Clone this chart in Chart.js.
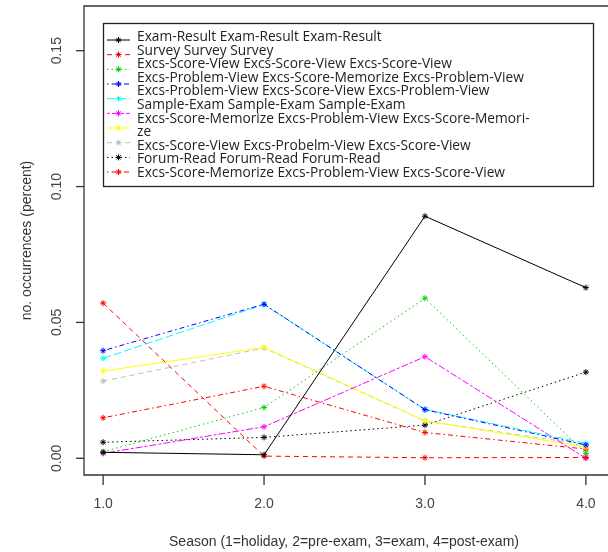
<!DOCTYPE html>
<html>
<head>
<meta charset="utf-8">
<script src="https://cdn.jsdelivr.net/npm/chart.js@4.4.1/dist/chart.umd.min.js"></script>
<style>
html, body { margin: 0; padding: 0; background: #fff; overflow: hidden; }
#wrap { width: 608px; height: 552px; }
</style>
</head>
<body>
<div id="wrap"><canvas id="chart" width="608" height="552"></canvas></div>
<script>
// seasons on the x axis
const seasons = [1, 2, 3, 4];
const xTicks = [1, 2, 3, 4];
const yTicks = [0, 0.05, 0.10, 0.15];

// share of occurrences per season, one array per pattern
const examResult      = [0.0022, 0.0013, 0.0891, 0.0628];
const survey          = [0.0571, 0.0008, 0.0002, 0.0003];
const scoreView       = [0.0024, 0.0187, 0.0589, 0.0018];
const problemMemorize = [0.0396, 0.0567, 0.0179, 0.0049];
const problemScore    = [0.0368, 0.0566, 0.0180, 0.0055];
const sampleExam      = [0.0018, 0.0116, 0.0374, 0.0000];
const memorizeProblem = [0.0321, 0.0408, 0.0138, 0.0042];
const scoreProbelm    = [0.0284, 0.0406, 0.0137, 0.0050];
const forumRead       = [0.0059, 0.0077, 0.0122, 0.0317];
const memorizeScore   = [0.0149, 0.0265, 0.0095, 0.0034];

const names = [
    'Exam-Result Exam-Result Exam-Result',
    'Survey Survey Survey',
    'Excs-Score-View Excs-Score-View Excs-Score-View',
    'Excs-Problem-View Excs-Score-Memorize Excs-Problem-View',
    'Excs-Problem-View Excs-Score-View Excs-Problem-View',
    'Sample-Exam Sample-Exam Sample-Exam',
    'Excs-Score-Memorize Excs-Problem-View Excs-Score-Memorize',
    'Excs-Score-View Excs-Probelm-View Excs-Score-View',
    'Forum-Read Forum-Read Forum-Read',
    'Excs-Score-Memorize Excs-Problem-View Excs-Score-View'
];
// legend text as printed (one entry wraps)
const legendText = names.map(n => n);
legendText[6] = 'Excs-Score-Memorize Excs-Problem-View Excs-Score-Memori-\nze';

const series = [examResult, survey, scoreView, problemMemorize, problemScore,
                sampleExam, memorizeProblem, scoreProbelm, forumRead, memorizeScore];

// R palette + lty 1..6 cycling
const colors = ['#000000', '#FF0000', '#00CD00', '#0000FF', '#00FFFF',
                '#FF00FF', '#FFFF00', '#BEBEBE', '#000000', '#FF0000'];
const dashes = [[], [5, 4], [1.5, 3], [1.5, 3, 5, 3], [8, 3],
                [3, 2, 7, 2], [], [5, 4], [1.5, 3], [1.5, 3, 5, 3]];

const datasets = series.map((vals, i) => ({
    label: names[i],
    data: seasons.map((s, j) => ({ x: s, y: vals[j] })),
    borderColor: colors[i],
    backgroundColor: colors[i],
    borderWidth: 1,
    borderDash: dashes[i],
    showLine: true,
    fill: false,
    tension: 0,
    pointStyle: 'star',
    pointRadius: 3,
    pointBorderWidth: 1,
    pointBorderColor: colors[i],
    clip: false
}));

const tickFont = '14px "Liberation Sans", Arial, sans-serif';

const rStyle = {
    id: 'rStyle',
    afterDraw(chart) {
        const ctx = chart.ctx;
        const a = chart.chartArea;
        const xs = chart.scales.x;
        const ys = chart.scales.y;
        ctx.save();

        // plot box (right side falls off the canvas)
        ctx.strokeStyle = '#333';
        ctx.lineWidth = 1.3;
        ctx.setLineDash([]);
        ctx.beginPath();
        ctx.moveTo(chart.width, a.top);
        ctx.lineTo(a.left, a.top);
        ctx.lineTo(a.left, a.bottom);
        ctx.lineTo(chart.width, a.bottom);
        ctx.stroke();

        // y ticks and rotated labels
        ctx.fillStyle = '#444';
        ctx.font = tickFont;
        ctx.textAlign = 'center';
        ctx.textBaseline = 'middle';
        yTicks.forEach(v => {
            const py = ys.getPixelForValue(v);
            ctx.beginPath();
            ctx.moveTo(a.left - 8, py);
            ctx.lineTo(a.left, py);
            ctx.stroke();
            ctx.save();
            ctx.translate(57, py);
            ctx.rotate(-Math.PI / 2);
            ctx.fillText(v.toFixed(2), 0, 0);
            ctx.restore();
        });

        // x ticks and labels
        xTicks.forEach(v => {
            const px = xs.getPixelForValue(v);
            ctx.beginPath();
            ctx.moveTo(px, a.bottom);
            ctx.lineTo(px, a.bottom + 10);
            ctx.stroke();
            ctx.fillText(v.toFixed(1), px, 504);
        });

        // axis titles
        ctx.fillStyle = '#333';
        ctx.fillText('Season (1=holiday, 2=pre-exam, 3=exam, 4=post-exam)', 344, 542);
        ctx.save();
        ctx.translate(27, (a.top + a.bottom) / 2);
        ctx.rotate(-Math.PI / 2);
        ctx.fillText('no. occurrences (percent)', 0, 0);
        ctx.restore();

        // legend
        ctx.strokeStyle = '#222';
        ctx.lineWidth = 1.3;
        ctx.strokeRect(103.5, 23.5, 490, 163);

        // fit legend font to the reference width of the first entry
        ctx.font = '13px "Open Sans", sans-serif';
        const w = ctx.measureText(legendText[0]).width;
        const size = 13 * 245 / w;
        ctx.font = size.toFixed(2) + 'px "Open Sans", sans-serif';
        ctx.fillStyle = '#222';
        ctx.textAlign = 'left';
        let line = 0;
        legendText.forEach(t => {
            t.split('\n').forEach(part => {
                ctx.fillText(part, 137, 37 + line * 13.6);
                line++;
            });
        });

        // legend symbols: evenly spaced, not aligned with text
        datasets.forEach((d, i) => {
            const sy = 40 + i * 14.67;
            ctx.strokeStyle = d.borderColor;
            ctx.lineWidth = 1;
            ctx.setLineDash(d.borderDash);
            ctx.beginPath();
            ctx.moveTo(107, sy);
            ctx.lineTo(130, sy);
            ctx.stroke();
            ctx.setLineDash([]);
            Chart.helpers.drawPoint(ctx, { pointStyle: 'star', radius: 3, borderWidth: 1 }, 118.5, sy);
        });

        ctx.restore();
    }
};

const ctx = document.getElementById('chart').getContext('2d');
new Chart(ctx, {
    type: 'scatter',
    data: { datasets: datasets },
    options: {
        responsive: false,
        animation: false,
        layout: { padding: { top: 6, right: 0, left: 0, bottom: 0 } },
        plugins: {
            legend: { display: false },
            tooltip: { enabled: false }
        },
        scales: {
            x: {
                type: 'linear',
                min: 0.8812,
                max: 4.1064,
                grid: { display: false },
                border: { display: false },
                ticks: { display: false },
                afterFit: s => { s.height = 77; }
            },
            y: {
                min: -0.00615,
                max: 0.16645,
                grid: { display: false },
                border: { display: false },
                ticks: { display: false },
                afterFit: s => { s.width = 84; }
            }
        }
    },
    plugins: [rStyle]
});
</script>
</body>
</html>
